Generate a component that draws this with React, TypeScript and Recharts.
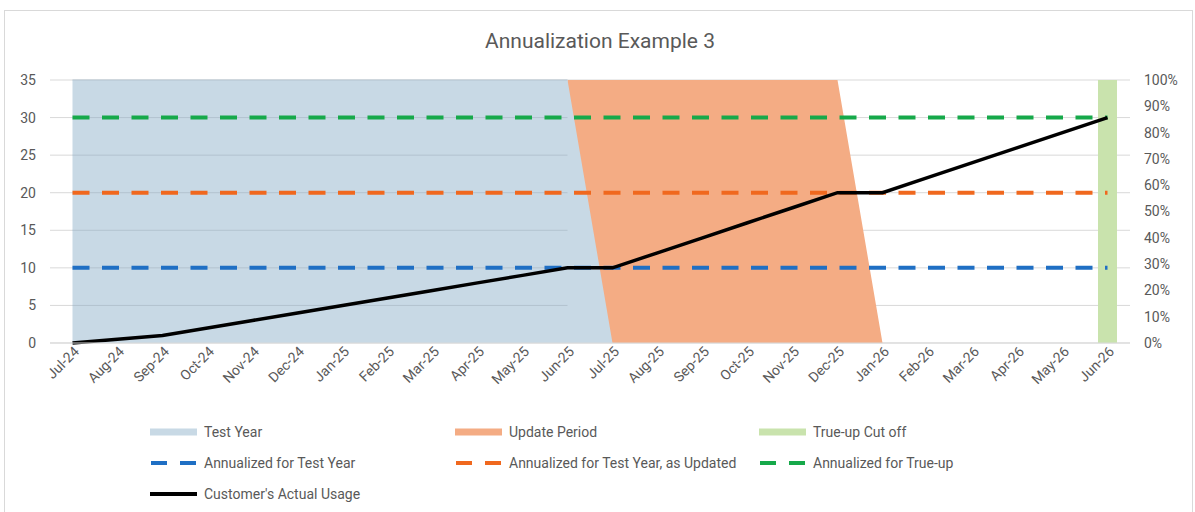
import { ComposedChart, Area, Bar, Line, XAxis, YAxis, CartesianGrid, ReferenceLine } from 'recharts'

const months = [
  'Jul-24', 'Aug-24', 'Sep-24', 'Oct-24', 'Nov-24', 'Dec-24',
  'Jan-25', 'Feb-25', 'Mar-25', 'Apr-25', 'May-25', 'Jun-25',
  'Jul-25', 'Aug-25', 'Sep-25', 'Oct-25', 'Nov-25', 'Dec-25',
  'Jan-26', 'Feb-26', 'Mar-26', 'Apr-26', 'May-26', 'Jun-26',
]

// shaded periods, share of the right axis (0..1)
const testYear = [1, 1, 1, 1, 1, 1, 1, 1, 1, 1, 1, 1, 0, 0, 0, 0, 0, 0, 0, 0, 0, 0, 0, 0]
const updatePeriod = [0, 0, 0, 0, 0, 0, 0, 0, 0, 0, 0, 1, 1, 1, 1, 1, 1, 1, 0, 0, 0, 0, 0, 0]
const trueUpCutoff = [null, null, null, null, null, null, null, null, null, null, null, null,
  null, null, null, null, null, null, null, null, null, null, null, 1]

// usage levels, left axis
const annualTestYear = [10, 10, 10, 10, 10, 10, 10, 10, 10, 10, 10, 10, 10, 10, 10, 10, 10, 10, 10, 10, 10, 10, 10, 10]
const annualUpdated = [20, 20, 20, 20, 20, 20, 20, 20, 20, 20, 20, 20, 20, 20, 20, 20, 20, 20, 20, 20, 20, 20, 20, 20]
const annualTrueUp = [30, 30, 30, 30, 30, 30, 30, 30, 30, 30, 30, 30, 30, 30, 30, 30, 30, 30, 30, 30, 30, 30, 30, 30]
const actualUsage = [0, 0.5, 1, 2, 3, 4, 5, 6, 7, 8, 9, 10, 10, 12, 14, 16, 18, 20, 20, 22, 24, 26, 28, 30]

const leftTicks = [0, 5, 10, 15, 20, 25, 30, 35]
const rightTicks = [0, 0.1, 0.2, 0.3, 0.4, 0.5, 0.6, 0.7, 0.8, 0.9, 1]

const data = months.map((month, i) => ({
  month,
  testYear: testYear[i],
  updatePeriod: updatePeriod[i],
  trueUpCutoff: trueUpCutoff[i],
  annualTestYear: annualTestYear[i],
  annualUpdated: annualUpdated[i],
  annualTrueUp: annualTrueUp[i],
  actualUsage: actualUsage[i],
}))

// last month fully inside the test year, grid shows through the blue shading up to there
const testYearEnd = months[testYear.lastIndexOf(1)]

const FONT = 'Roboto, "Noto Sans", sans-serif'
const TEXT = '#595959'

const MonthTick = ({ x, y, payload }: any) => (
  <g transform={`translate(${x + 4},${y + 4})`}>
    <text x={0} y={0} dy="0.35em" textAnchor="end" fill={TEXT} fontSize={14} fontFamily={FONT} transform="rotate(-45)">
      {payload.value}
    </text>
  </g>
)

const legendRows = [
  [
    { label: 'Test Year', kind: 'box', color: '#c8d9e5' },
    { label: 'Update Period', kind: 'box', color: '#f4ac84' },
    { label: 'True-up Cut off', kind: 'box', color: '#c9e3ad' },
  ],
  [
    { label: 'Annualized for Test Year', kind: 'dash', color: '#1f6fc4' },
    { label: 'Annualized for Test Year, as Updated', kind: 'dash', color: '#f0681e' },
    { label: 'Annualized for True-up', kind: 'dash', color: '#16a94a' },
  ],
  [
    { label: "Customer's Actual Usage", kind: 'line', color: '#000000' },
  ],
]
const colX = [150, 455, 759]
const rowY = [432, 463, 494]

function Swatch({ kind, color }: { kind: string; color: string }) {
  if (kind === 'box') return <rect x={0} y={-3.5} width={47} height={7} fill={color} />
  if (kind === 'dash') return <line x1={1} x2={46} y1={0} y2={0} stroke={color} strokeWidth={4} strokeDasharray="16 13" />
  return <line x1={0} x2={47} y1={0} y2={0} stroke={color} strokeWidth={4} />
}

export default function App() {
  return (
    <div style={{ position: 'absolute', left: 0, top: 0, width: 1195, height: 512, background: '#fff', fontFamily: FONT }}>
      <div style={{ position: 'absolute', left: 4, top: 10, width: 1187, height: 510, border: '1px solid #d9d9d9' }} />
      <div style={{ position: 'absolute', left: 0, top: 29, width: 1200, textAlign: 'center', fontSize: 21, color: TEXT }}>
        Annualization Example 3
      </div>
      <div style={{ position: 'absolute', left: 0, top: 0 }}>
        <ComposedChart width={1195} height={512} data={data} margin={{ top: 80, right: 0, bottom: 109, left: 0 }}>
          <CartesianGrid yAxisId="left" vertical={false} stroke="#d9d9d9" />
          <XAxis dataKey="month" tick={<MonthTick />} tickLine={false} tickSize={0} height={60} interval={0}
            axisLine={{ stroke: '#d9d9d9' }} />
          <YAxis yAxisId="left" domain={[0, 35]} ticks={leftTicks} width={50} axisLine={false} tickLine={false}
            tickMargin={8} tick={{ fill: TEXT, fontSize: 14, fontFamily: FONT }} />
          <YAxis yAxisId="right" orientation="right" domain={[0, 1]} ticks={rightTicks} width={65} axisLine={false}
            tickLine={false} tickMargin={8} tickFormatter={(v: number) => `${Math.round(v * 100)}%`}
            tick={{ fill: TEXT, fontSize: 14, fontFamily: FONT, textAnchor: 'start' }} />
          <Area yAxisId="right" type="linear" dataKey="updatePeriod" stroke="none" fill="#f4ac84" fillOpacity={1}
            isAnimationActive={false} activeDot={false} />
          <Area yAxisId="right" type="linear" dataKey="testYear" stroke="none" fill="#c8d9e5" fillOpacity={1}
            isAnimationActive={false} activeDot={false} />
          {leftTicks.filter((t) => t > 0).map((t) => (
            <ReferenceLine key={t} yAxisId="left" stroke="#b3c3cf" strokeWidth={1}
              segment={[{ x: months[0], y: t }, { x: testYearEnd, y: t }]} />
          ))}
          <Bar yAxisId="right" dataKey="trueUpCutoff" fill="#c9e3ad" barSize={19} isAnimationActive={false} />
          <Line yAxisId="left" type="linear" dataKey="annualTestYear" stroke="#1f6fc4" strokeWidth={4}
            strokeDasharray="17 12.5" dot={false} isAnimationActive={false} />
          <Line yAxisId="left" type="linear" dataKey="annualUpdated" stroke="#f0681e" strokeWidth={4}
            strokeDasharray="17 12.5" dot={false} isAnimationActive={false} />
          <Line yAxisId="left" type="linear" dataKey="annualTrueUp" stroke="#16a94a" strokeWidth={4}
            strokeDasharray="17 12.5" dot={false} isAnimationActive={false} />
          <Line yAxisId="left" type="linear" dataKey="actualUsage" stroke="#000000" strokeWidth={3.5}
            dot={false} isAnimationActive={false} />
        </ComposedChart>
      </div>
      <svg style={{ position: 'absolute', left: 0, top: 0 }} width={1195} height={512}>
        {legendRows.map((row, r) =>
          row.map((item, c) => (
            <g key={item.label} transform={`translate(${colX[c]},${rowY[r]})`}>
              <Swatch kind={item.kind} color={item.color} />
              <text x={54} y={0} dy="0.35em" fontSize={14} fill={TEXT} fontFamily={FONT}>{item.label}</text>
            </g>
          ))
        )}
      </svg>
    </div>
  )
}
